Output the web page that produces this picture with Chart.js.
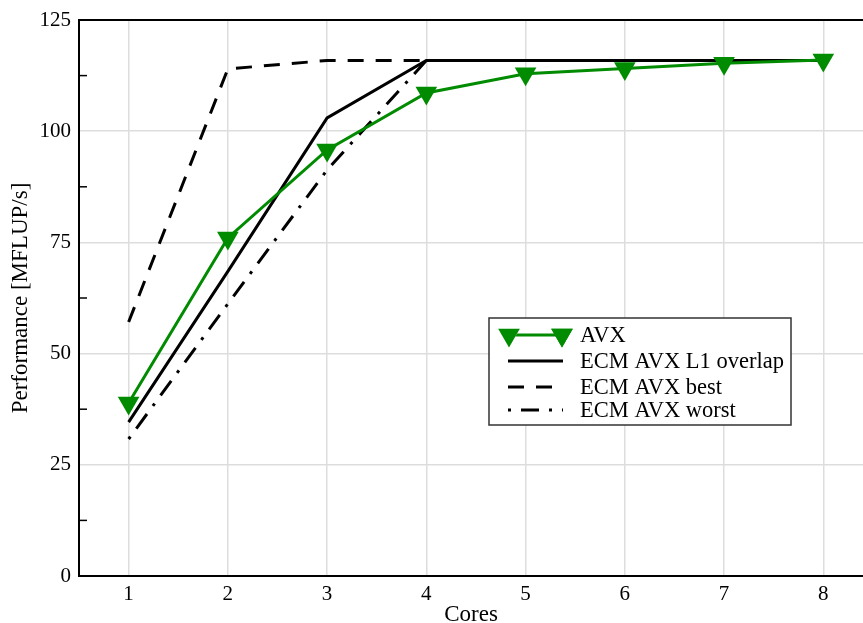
<!DOCTYPE html>
<html>
<head>
<meta charset="utf-8">
<script src="https://cdn.jsdelivr.net/npm/chart.js@4"></script>
<style>
  html, body { margin: 0; padding: 0; background: #fff; overflow: hidden; }
  #wrap { width: 863px; height: 623px; position: relative; }
  canvas { display: block; }
</style>
</head>
<body>
<div id="wrap"><canvas id="myChart"></canvas></div>
<script>
// datos
const cores = [1, 2, 3, 4, 5, 6, 7, 8];
const avx = [38.9, 76, 95.8, 108.6, 112.9, 114.1, 115.3, 116];
const ecmL1 = [34.6, 68.5, 103, 115.9, 115.9, 115.9, 115.9, 115.9];
const ecmBest = [57.1, 114, 115.9, 115.9, 115.9, 115.9, 115.9, 115.9];
const ecmWorst = [30.8, 61.2, 91.3, 115.9, 115.9, 115.9, 115.9, 115.9];
const yTicks = [0, 25, 50, 75, 100, 125];
const yMinor = [12.5, 37.5, 62.5, 87.5, 112.5];

const verde = "#008b00";
const fuente = "'Liberation Serif', 'Times New Roman', serif";

function puntos(valores) {
  return cores.map((c, i) => ({ x: c, y: valores[i] }));
}

const datasets = [
  {
    label: "AVX",
    data: puntos(avx),
    borderColor: verde,
    backgroundColor: verde,
    borderWidth: 3,
    pointStyle: "triangle",
    rotation: 180,
    pointRadius: 12.5,
    pointBorderWidth: 0,
    pointBackgroundColor: verde
  },
  {
    label: "ECM AVX L1 overlap",
    data: puntos(ecmL1),
    borderColor: "#000",
    borderWidth: 3,
    pointRadius: 0
  },
  {
    label: "ECM AVX best",
    data: puntos(ecmBest),
    borderColor: "#000",
    borderWidth: 3,
    borderDash: [16, 12],
    pointRadius: 0
  },
  {
    label: "ECM AVX worst",
    data: puntos(ecmWorst),
    borderColor: "#000",
    borderWidth: 3,
    borderDash: [3, 10, 18, 10],
    pointRadius: 0
  }
];

// ticks menores del eje y
const ticksMenores = {
  id: "ticksMenores",
  afterDraw(chart) {
    const ctx = chart.ctx;
    const y = chart.scales.y;
    const left = chart.chartArea.left;
    ctx.save();
    ctx.strokeStyle = "#000";
    ctx.lineWidth = 1.5;
    yMinor.forEach(v => {
      const py = y.getPixelForValue(v);
      ctx.beginPath();
      ctx.moveTo(left, py);
      ctx.lineTo(left + 8, py);
      ctx.stroke();
    });
    ctx.restore();
  }
};

// leyenda propia
const leyenda = {
  id: "leyenda",
  afterDraw(chart) {
    const ctx = chart.ctx;
    const bx = 489, by = 318, bw = 302, bh = 107;
    const filas = [335, 361, 387, 410];
    ctx.save();
    ctx.fillStyle = "#fff";
    ctx.fillRect(bx, by, bw, bh);
    ctx.strokeStyle = "#333";
    ctx.lineWidth = 1.5;
    ctx.strokeRect(bx, by, bw, bh);

    datasets.forEach((ds, i) => {
      const y = filas[i];
      ctx.beginPath();
      ctx.strokeStyle = ds.borderColor;
      ctx.lineWidth = ds.borderWidth;
      ctx.setLineDash(ds.borderDash || []);
      ctx.moveTo(508, y);
      ctx.lineTo(563, y);
      ctx.stroke();
      ctx.setLineDash([]);
      if (ds.pointStyle) {
        [509, 562].forEach(px => {
          Chart.helpers.drawPoint(ctx, {
            pointStyle: ds.pointStyle,
            rotation: ds.rotation,
            radius: ds.pointRadius,
            borderWidth: 0
          }, px, y);
          ctx.fillStyle = verde;
          ctx.fill();
        });
      }
      ctx.fillStyle = "#000";
      ctx.font = "22.5px " + fuente;
      ctx.textBaseline = "middle";
      ctx.fillText(ds.label, 580, y + 1);
    });
    ctx.restore();
  }
};

const config = {
  type: "line",
  data: { datasets },
  options: {
    responsive: true,
    maintainAspectRatio: false,
    animation: false,
    layout: { autoPadding: false, padding: { top: 20, right: 0, left: 7, bottom: 0 } },
    plugins: {
      legend: { display: false },
      tooltip: { enabled: false }
    },
    scales: {
      x: {
        type: "linear",
        min: 0.5,
        max: 8.4,
        afterBuildTicks: scale => { scale.ticks = cores.map(v => ({ value: v })); },
        afterFit: scale => {
          scale.height = 47;
          scale.paddingRight = 0;
          scale.paddingLeft = 0;
        },
        grid: { color: "#dddddd", lineWidth: 1.5, drawTicks: false },
        border: { display: true, color: "#000", width: 2 },
        ticks: {
          color: "#000",
          font: { family: fuente, size: 21 },
          padding: 6,
          maxRotation: 0
        },
        title: {
          display: true,
          text: "Cores",
          color: "#000",
          font: { family: fuente, size: 23 },
          padding: { top: 0, bottom: -6 }
        }
      },
      y: {
        min: 0,
        max: 125,
        afterBuildTicks: scale => { scale.ticks = yTicks.map(v => ({ value: v })); },
        afterFit: scale => {
          scale.width = 72;
          scale.paddingTop = 0;
          scale.paddingBottom = 0;
        },
        grid: {
          color: c => (c.tick && c.tick.value === 125 ? "#000" : "#dddddd"),
          lineWidth: c => (c.tick && c.tick.value === 125 ? 2 : 1.5),
          drawTicks: false
        },
        border: { display: true, color: "#000", width: 2 },
        ticks: {
          color: "#000",
          font: { family: fuente, size: 21 },
          padding: 8
        },
        title: {
          display: true,
          text: "Performance [MFLUP/s]",
          color: "#000",
          font: { family: fuente, size: 23 },
          padding: 0
        }
      }
    }
  },
  plugins: [ticksMenores, leyenda]
};

const chart = new Chart(document.getElementById("myChart"), config);
</script>
</body>
</html>
